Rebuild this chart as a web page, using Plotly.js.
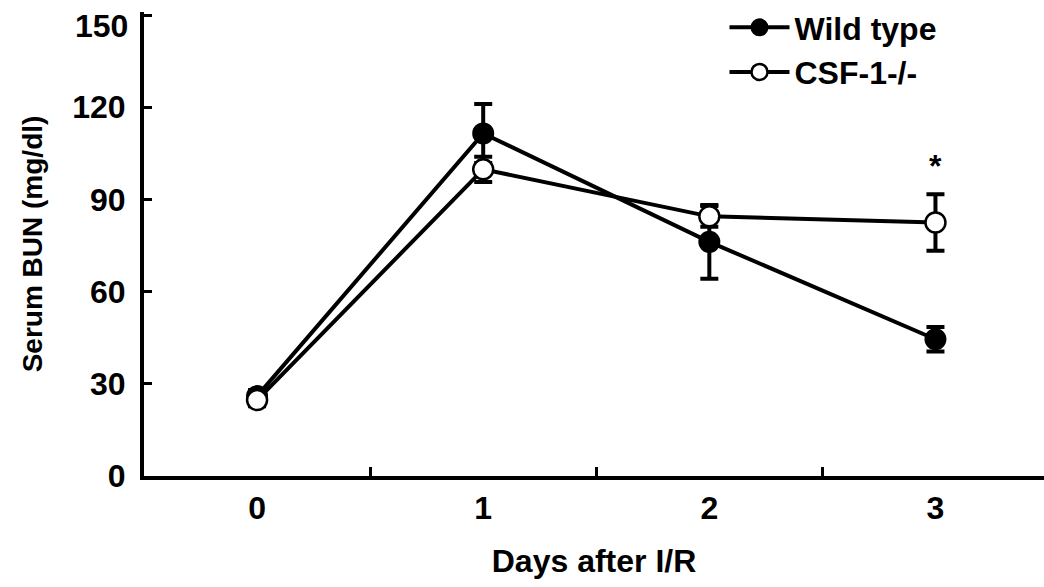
<!DOCTYPE html>
<html>
<head>
<meta charset="utf-8">
<script src="https://cdn.plot.ly/plotly-3.0.1.min.js"></script>
<style>html,body{margin:0;padding:0;background:#fff;}#chart{width:1044px;height:587px;}</style>
</head>
<body>
<div id="chart"></div>
<script>
const days = [0, 1, 2, 3];
const dayLabels = ['0', '1', '2', '3'];
const wildType = [26, 111.5, 76.2, 44.5];
const wildTypeErr = [2, 9.6, 12, 4];
const csfKO = [24.7, 99.8, 84.5, 82.5];
const csfKOErr = [2, 4.1, 3.4, 9.2];
const yTicks = [0, 30, 60, 90, 120, 150];
const sigDay = 3;
const sigMark = '*';
const sigLevel = 101;

const FONT = 'Liberation Sans, Arial, Helvetica, sans-serif';
const FS = 32;

// top tick label is drawn nudged below its tick (as in the reference) so it stays inside the figure
const yTopTick = yTicks[yTicks.length - 1];
const yTickText = yTicks.map(v => (v === yTopTick ? '' : String(v)));

const traces = [
  {
    x: days, y: wildType, name: 'Wild type', type: 'scatter', mode: 'lines+markers',
    line: {color: '#000', width: 4},
    marker: {symbol: 'circle', size: 20, color: '#000', line: {color: '#000', width: 2}},
    error_y: {type: 'data', array: wildTypeErr, visible: true, color: '#000', thickness: 4, width: 9}
  },
  {
    x: days, y: csfKO, name: 'CSF-1-/-', type: 'scatter', mode: 'lines+markers',
    line: {color: '#000', width: 4},
    marker: {symbol: 'circle', size: 20, color: '#fff', line: {color: '#000', width: 2.5}},
    error_y: {type: 'data', array: csfKOErr, visible: true, color: '#000', thickness: 4, width: 9}
  }
];

const layout = {
  width: 1044, height: 587,
  margin: {l: 144, r: 0, t: 11, b: 111},
  paper_bgcolor: '#fff', plot_bgcolor: '#fff',
  font: {family: FONT, size: FS, color: '#000', weight: 'bold'},
  showlegend: true,
  legend: {
    x: 0.645, y: 1.025, xanchor: 'left', yanchor: 'top',
    font: {family: FONT, size: FS, color: '#000', weight: 'bold'},
    bgcolor: 'rgba(0,0,0,0)', itemwidth: 60, tracegroupgap: 0
  },
  xaxis: {
    range: [-0.5, 3.48], tickmode: 'array', tickvals: days, ticktext: dayLabels,
    ticks: '', showgrid: false, zeroline: false, showline: true, linecolor: '#000', linewidth: 4,
    tickfont: {family: FONT, size: FS, weight: 'bold'}, ticklabelstandoff: 1,
    minor: {tickvals: [0.5, 1.5, 2.5], ticks: 'inside', ticklen: 9, tickwidth: 3, tickcolor: '#000', showgrid: false},
    title: {text: 'Days after I/R', font: {family: FONT, size: FS, weight: 'bold'}, standoff: 25}
  },
  yaxis: {
    range: [0, 151], tickmode: 'array', tickvals: yTicks, ticktext: yTickText,
    ticks: 'inside', ticklen: 8, tickwidth: 3, tickcolor: '#000',
    showgrid: false, zeroline: false, showline: true, linecolor: '#000', linewidth: 4,
    tickfont: {family: FONT, size: FS, weight: 'bold'}, ticklabelstandoff: 8,
    title: {text: 'Serum BUN (mg/dl)', font: {family: FONT, size: 28, weight: 'bold'}, standoff: 22}
  },
  annotations: [
    {x: sigDay, y: sigLevel, xref: 'x', yref: 'y', text: sigMark, showarrow: false,
     font: {family: FONT, size: FS, weight: 'bold', color: '#000'}, yanchor: 'middle'},
    {x: 0, xref: 'paper', y: yTopTick, yref: 'y', text: String(yTopTick), showarrow: false,
     xanchor: 'right', yanchor: 'middle', xshift: -14, yshift: -11,
     font: {family: FONT, size: FS, weight: 'bold', color: '#000'}}
  ]
};

Plotly.newPlot('chart', traces, layout, {displayModeBar: false, staticPlot: true});
</script>
</body>
</html>
